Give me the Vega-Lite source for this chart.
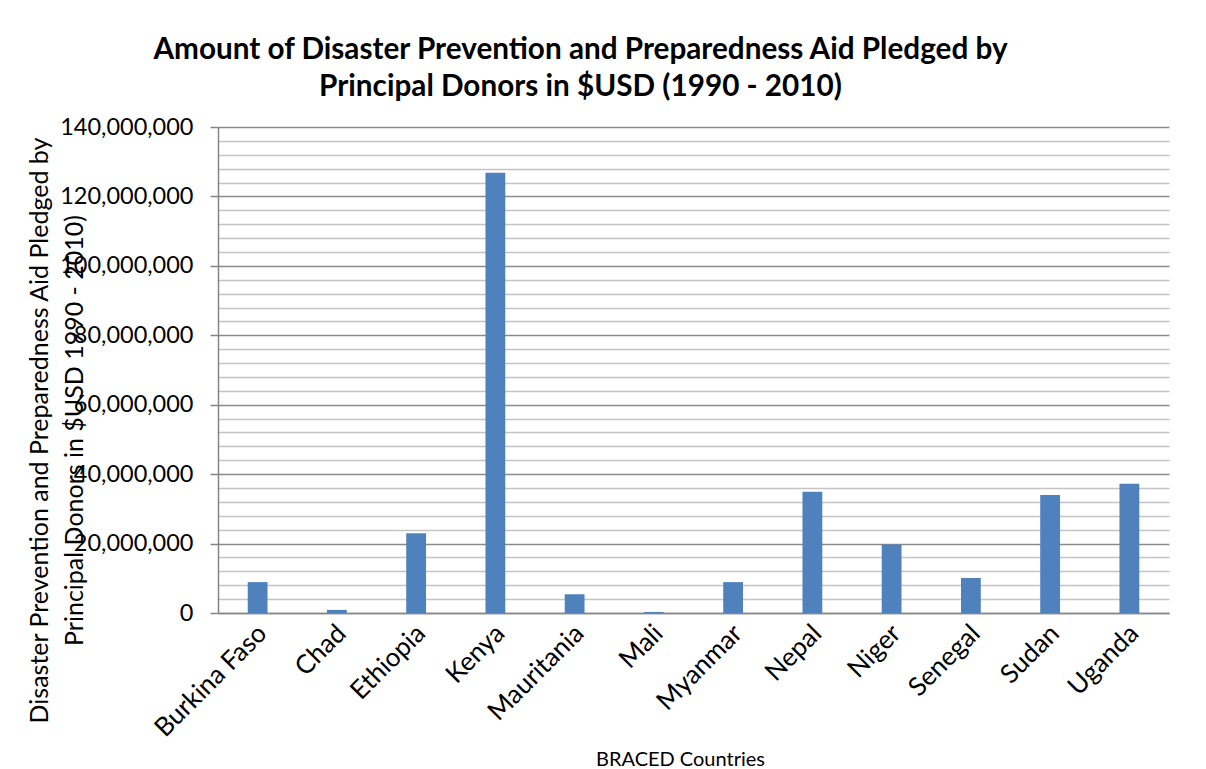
{
  "$schema": "https://vega.github.io/schema/vega-lite/v6.json",
  "autosize": {"type": "none"},
  "padding": {"left": 218, "top": 127, "right": 37, "bottom": 156},
  "width": 951,
  "height": 486,
  "background": "white",
  "title": {
    "text": ["Amount of Disaster Prevention and Preparedness Aid Pledged by", "Principal Donors in $USD (1990 - 2010)"],
    "font": "Lato",
    "fontSize": 29.7,
    "fontWeight": "bold",
    "color": "#000000",
    "anchor": "middle",
    "dx": -113,
    "lineHeight": 37,
    "offset": 12
  },
  "data": {
    "values": [
      {"country": "Burkina Faso", "amount": 8900000},
      {"country": "Chad", "amount": 900000},
      {"country": "Ethiopia", "amount": 23000000},
      {"country": "Kenya", "amount": 126800000},
      {"country": "Mauritania", "amount": 5400000},
      {"country": "Mali", "amount": 300000},
      {"country": "Myanmar", "amount": 8900000},
      {"country": "Nepal", "amount": 34900000},
      {"country": "Niger", "amount": 19700000},
      {"country": "Senegal", "amount": 10100000},
      {"country": "Sudan", "amount": 34000000},
      {"country": "Uganda", "amount": 37200000}
    ]
  },
  "mark": {"type": "bar", "color": "#4f81bd"},
  "encoding": {
    "x": {
      "field": "country",
      "type": "nominal",
      "sort": null,
      "scale": {"paddingInner": 0.75, "paddingOuter": 0.375},
      "axis": {
        "title": "BRACED Countries",
        "titleFont": "Lato",
        "titleFontSize": 20,
        "titleFontWeight": "normal",
        "titleColor": "#000000",
        "titleBaseline": "alphabetic",
        "titleX": 462,
        "titleY": 152,
        "labelAngle": -45,
        "labelAlign": "right",
        "labelBaseline": "middle",
        "labelFont": "Lato",
        "labelFontSize": 26,
        "labelColor": "#000000",
        "labelPadding": 16,
        "labelOffset": 5,
        "labelBound": false,
        "labelOverlap": false,
        "ticks": false,
        "domainColor": "#868686",
        "domainWidth": 1.5,
        "grid": false
      }
    },
    "y": {
      "field": "amount",
      "type": "quantitative",
      "scale": {"domain": [0, 140000000], "nice": false},
      "axis": {
        "title": ["Disaster Prevention and Preparedness Aid Pledged by", "Principal Donors in $USD 1990 - 2010)"],
        "titleFont": "Lato",
        "titleFontSize": 25,
        "titleFontWeight": "normal",
        "titleColor": "#000000",
        "titleAngle": -90,
        "titleAlign": "center",
        "titleBaseline": "top",
        "titleLineHeight": 35,
        "titleX": -191,
        "titleY": 303,
        "values": [0, 4000000, 8000000, 12000000, 16000000, 20000000, 24000000, 28000000, 32000000, 36000000, 40000000, 44000000, 48000000, 52000000, 56000000, 60000000, 64000000, 68000000, 72000000, 76000000, 80000000, 84000000, 88000000, 92000000, 96000000, 100000000, 104000000, 108000000, 112000000, 116000000, 120000000, 124000000, 128000000, 132000000, 136000000, 140000000],
        "labelExpr": "datum.value % 20000000 === 0 ? format(datum.value, ',') : ''",
        "labelFont": "Lato",
        "labelFontSize": 23.5,
        "labelColor": "#000000",
        "labelPadding": 17,
        "labelBound": false,
        "labelOverlap": false,
        "tickSize": 8,
        "tickColor": "#868686",
        "tickWidth": 1.5,
        "tickOpacity": {"condition": {"test": "datum.value % 20000000 === 0", "value": 1}, "value": 0},
        "domainColor": "#868686",
        "domainWidth": 1.5,
        "grid": true,
        "gridColor": {"condition": {"test": "datum.value % 20000000 === 0", "value": "#8a8a8a"}, "value": "#c4c4c4"},
        "gridWidth": 1.4
      }
    }
  },
  "config": {
    "view": {"stroke": null},
    "font": "Lato"
  }
}
